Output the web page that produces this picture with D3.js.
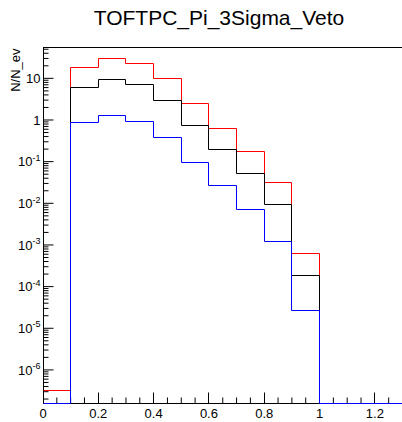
<!DOCTYPE html>
<html>
<head>
<meta charset="utf-8">
<script src="https://cdn.jsdelivr.net/npm/d3@7"></script>
<style>
body { margin: 0; background: #ffffff; }
text { font-family: "Liberation Sans", Arial, sans-serif; fill: #000; }
</style>
</head>
<body>
<svg id="chart"></svg>
<script>
// histogram bins (x edges) and contents per series
const binEdges = [0, 0.1, 0.2, 0.3, 0.4, 0.5, 0.6, 0.7, 0.8, 0.9, 1.0, 1.1, 1.2, 1.3];
const redValues   = [3.2e-7, 18, 30, 23, 9.8, 2.5, 0.64, 0.177, 0.031, 6.4e-4, 0, 0, 0];
const blackValues = [0, 6.0, 9.4, 7.2, 2.9, 0.75, 0.2, 0.053, 0.0093, 1.8e-4, 0, 0, 0];
const blueValues  = [0, 0.86, 1.25, 0.91, 0.37, 0.098, 0.0265, 0.0071, 0.00118, 2.7e-5, 0, 0, 0];

const xTicks = [0, 0.2, 0.4, 0.6, 0.8, 1.0, 1.2];
const xTickLabels = ['0', '0.2', '0.4', '0.6', '0.8', '1', '1.2'];
const yMajorExps = [-6, -5, -4, -3, -2, -1, 0, 1];

const WIDTH = 402;
const HEIGHT = 422;
const FRAME = {left: 43, right: 402.5, top: 47.5, bottom: 403.3};

const svg = d3.select('#chart')
  .attr('width', WIDTH)
  .attr('height', HEIGHT);

const x = d3.scaleLinear().domain([0, 1.3]).range([FRAME.left, FRAME.right]);
const y = d3.scaleLog().domain([1.58e-7, 55]).range([FRAME.bottom, FRAME.top]);

// snap to pixel centres so the 1px lines stay sharp
const snap = v => Math.floor(v) + 0.5;

// title
svg.append('text')
  .attr('x', 219)
  .attr('y', 24.5)
  .attr('text-anchor', 'middle')
  .style('font-size', '21px')
  .text('TOFTPC_Pi_3Sigma_Veto');

// y axis title
svg.append('text')
  .attr('transform', `translate(19.5, ${FRAME.top + 1}) rotate(-90)`)
  .attr('text-anchor', 'end')
  .style('font-size', '13px')
  .text('N/N_ev');

// frame
svg.append('rect')
  .attr('x', snap(FRAME.left))
  .attr('y', snap(FRAME.top))
  .attr('width', snap(FRAME.right) - snap(FRAME.left))
  .attr('height', snap(FRAME.bottom) - snap(FRAME.top))
  .attr('fill', 'none')
  .attr('stroke', '#000')
  .attr('stroke-width', 1);

// x axis: minor ticks then major ticks with labels
const xMinor = d3.range(0, 1.3001, 0.05).filter(v => xTicks.every(t => Math.abs(t - v) > 1e-6));

svg.append('g')
  .attr('transform', `translate(0, ${snap(FRAME.bottom)})`)
  .call(d3.axisBottom(x).tickValues(xMinor).tickSize(-6).tickFormat('').offset(0))
  .call(g => g.select('.domain').remove());

const xAxis = svg.append('g')
  .attr('transform', `translate(0, ${snap(FRAME.bottom)})`)
  .call(d3.axisBottom(x).tickValues(xTicks).tickSize(-11).offset(0)
    .tickFormat((d, i) => xTickLabels[i]))
  .call(g => g.select('.domain').remove());

xAxis.selectAll('line')
  .attr('x1', d => snap(x(d)) - x(d))
  .attr('x2', d => snap(x(d)) - x(d));

xAxis.selectAll('text')
  .attr('y', 14)
  .attr('dy', 0)
  .style('font-size', '13px')
  .style('font-family', '"Liberation Sans", Arial, sans-serif');

// y axis: minor ticks 2..9 per decade inside the domain
const yMinor = [];
yMajorExps.concat([-7]).forEach(e => {
  for(let k = 2; k <= 9; k++){
    const v = k * Math.pow(10, e);
    if(v >= y.domain()[0] && v <= y.domain()[1]) yMinor.push(v);
  }
});

svg.append('g')
  .attr('transform', `translate(${snap(FRAME.left)}, 0)`)
  .call(d3.axisLeft(y).tickValues(yMinor).tickSize(-5).tickFormat('').offset(0))
  .call(g => g.select('.domain').remove());

const yAxis = svg.append('g')
  .attr('transform', `translate(${snap(FRAME.left)}, 0)`)
  .call(d3.axisLeft(y).tickValues(yMajorExps.map(e => Math.pow(10, e))).tickSize(-10).tickFormat('').offset(0))
  .call(g => g.select('.domain').remove());

yAxis.selectAll('.tick').each(function(d){
  const e = Math.round(Math.log10(d));
  const t = d3.select(this).append('text')
    .attr('x', -3)
    .attr('y', 4.7)
    .attr('text-anchor', 'end')
    .attr('fill', '#000')
    .style('font-size', '13px')
    .style('font-family', '"Liberation Sans", Arial, sans-serif');
  if(e === 0){
    t.text('1');
  } else if(e === 1){
    t.text('10');
  } else {
    t.append('tspan').text('10');
    t.append('tspan')
      .attr('dy', -5.5)
      .style('font-size', '9px')
      .text('-' + (-e));
  }
});

// histograms, drawn over the frame like ROOT does
const line = d3.line()
  .curve(d3.curveStepAfter)
  .x(d => snap(x(d[0])))
  .y(d => snap(d[1] > 0 ? y(d[1]) : FRAME.bottom));

function histPoints(values){
  const pts = values.map((v, i) => [binEdges[i], v]);
  pts.push([binEdges[binEdges.length - 1], values[values.length - 1]]);
  return pts;
}

const series = [
  {name: 'red', color: '#ff0000', values: redValues},
  {name: 'black', color: '#000000', values: blackValues},
  {name: 'blue', color: '#0000ff', values: blueValues}
];

svg.append('g')
  .selectAll('path')
  .data(series)
  .enter()
  .append('path')
  .attr('d', d => line(histPoints(d.values)))
  .attr('fill', 'none')
  .attr('stroke', d => d.color)
  .attr('stroke-width', 1);
</script>
</body>
</html>
